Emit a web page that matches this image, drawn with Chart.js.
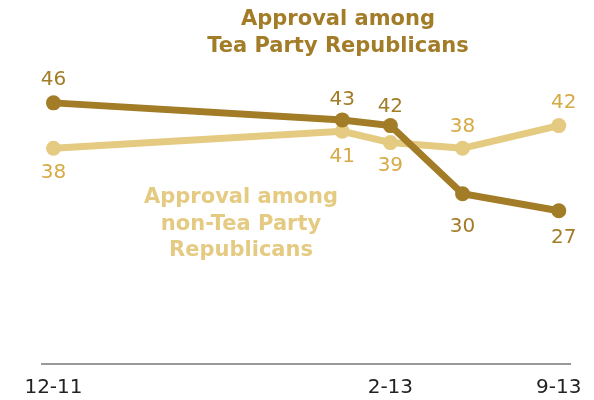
<!DOCTYPE html>
<html>
<head>
<meta charset="utf-8">
<script src="https://cdn.jsdelivr.net/npm/chart.js@4/dist/chart.umd.min.js"></script>
<style>
  html, body { margin: 0; padding: 0; background: #ffffff; }
  #wrap { width: 594px; height: 400px; position: relative; }
</style>
</head>
<body>
<div id="wrap"><canvas id="c"></canvas></div>
<script>
// Months since December 2011 for each survey
const months = [0, 12, 14, 17, 21];
const teaParty = [46, 43, 42, 30, 27];
const nonTeaParty = [38, 41, 39, 38, 42];
const tickMonths = [0, 14, 21];
const tickLabels = ['12-11', '2-13', '9-13'];
const teaTitle = ['Approval among', 'Tea Party Republicans'];
const nonTeaTitle = ['Approval among', 'non-Tea Party', 'Republicans'];

const DARK = '#A27C27';
const LIGHT = '#E5CA82';
const LIGHT_TEXT = '#D6AA45';
const FONT = '"DejaVu Sans", Verdana, sans-serif';

const toPoints = (ys) => months.map((m, i) => ({ x: m, y: ys[i] }));

const labelPlugin = {
  id: 'valueLabels',
  afterDatasetsDraw(chart, args, opts) {
    const ctx = chart.ctx;
    ctx.save();
    ctx.font = '20px ' + FONT;
    ctx.textAlign = 'center';
    ctx.textBaseline = 'middle';
    chart.data.datasets.forEach((ds, di) => {
      const meta = chart.getDatasetMeta(di);
      const offs = opts.offsets[di];
      ctx.fillStyle = opts.colors[di];
      meta.data.forEach((el, i) => {
        ctx.fillText(String(ds.data[i].y), el.x + offs[i][0], el.y + offs[i][1]);
      });
    });
    // series annotations
    ctx.font = 'bold 21px ' + FONT;
    ctx.fillStyle = DARK;
    teaTitle.forEach((t, i) => ctx.fillText(t, 338, 20 + i * 27));
    ctx.fillStyle = LIGHT;
    nonTeaTitle.forEach((t, i) => ctx.fillText(t, 241, 198 + i * 26.5));
    ctx.restore();
  }
};

new Chart(document.getElementById('c'), {
  type: 'line',
  data: {
    datasets: [
      {
        label: 'Tea Party Republicans',
        data: toPoints(teaParty),
        borderColor: DARK,
        backgroundColor: DARK,
        borderWidth: 7,
        pointRadius: 7.5,
        pointHoverRadius: 7.5,
        pointBorderWidth: 0,
        tension: 0,
        clip: false
      },
      {
        label: 'non-Tea Party Republicans',
        data: toPoints(nonTeaParty),
        borderColor: LIGHT,
        backgroundColor: LIGHT,
        borderWidth: 7,
        pointRadius: 7.5,
        pointHoverRadius: 7.5,
        pointBorderWidth: 0,
        tension: 0,
        clip: false
      }
    ]
  },
  options: {
    responsive: true,
    maintainAspectRatio: false,
    animation: false,
    layout: { padding: { left: 42, right: 22, top: 0, bottom: 0 } },
    plugins: {
      legend: { display: false },
      tooltip: { enabled: false },
      valueLabels: {
        colors: [DARK, LIGHT_TEXT],
        offsets: [
          [[0, -23], [0, -20], [0, -19], [0, 33], [5, 27]],
          [[0, 25], [0, 26], [0, 23], [0, -21], [5, -23]]
        ]
      }
    },
    scales: {
      x: {
        type: 'linear',
        min: -0.477,
        max: 21.5,
        afterBuildTicks(axis) {
          axis.ticks = tickMonths.map(v => ({ value: v }));
        },
        afterFit(axis) {
          axis.height = 36;
        },
        grid: { display: false, drawTicks: false },
        border: { display: true, color: '#999999', width: 2 },
        ticks: {
          autoSkip: false,
          maxRotation: 0,
          padding: 12,
          color: '#222222',
          font: { family: FONT, size: 20 },
          callback(v) {
            const i = tickMonths.indexOf(v);
            return i >= 0 ? tickLabels[i] : '';
          }
        }
      },
      y: {
        display: false,
        min: 0,
        max: 62.8
      }
    }
  },
  plugins: [labelPlugin]
});
</script>
</body>
</html>
